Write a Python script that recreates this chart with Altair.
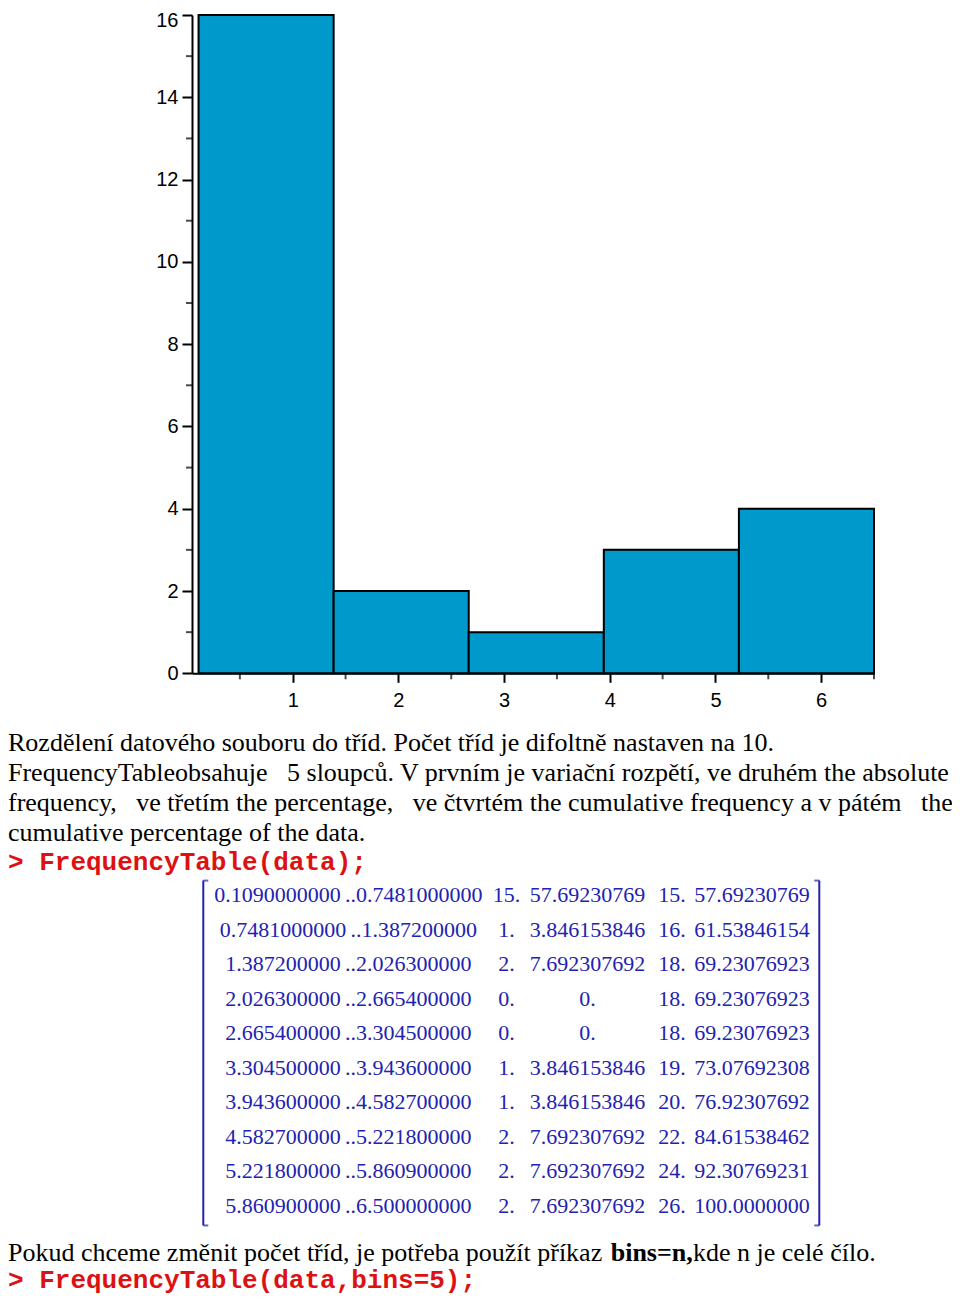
import altair as alt
import pandas as pd

# ---------------- data ----------------
bin_lo = [0.109, 1.3872, 2.6654, 3.9436, 5.2218]
bin_hi = [1.3872, 2.6654, 3.9436, 5.2218, 6.5]
counts = [16, 2, 1, 3, 4]

x_major = [1, 2, 3, 4, 5, 6]
x_minor = [0.5, 1.5, 2.5, 3.5, 4.5, 5.5, 6.5]
y_major = [0, 2, 4, 6, 8, 10, 12, 14, 16]
y_minor = [1, 3, 5, 7, 9, 11, 13, 15]

NB = "\u00a0"
para_lines = [
    "Rozdělení datového souboru do tříd. Počet tříd je difoltně nastaven na 10.",
    "FrequencyTableobsahuje" + NB * 2 + " 5 sloupců. V prvním je variační rozpětí, ve druhém the absolute",
    "frequency," + NB * 2 + " ve třetím the percentage," + NB * 2 + " ve čtvrtém the cumulative frequency a v pátém" + NB * 2 + " the",
    "cumulative percentage of the data.",
]
note_before = "Pokud chceme změnit počet tříd, je potřeba použít příkaz"
note_bold = "bins=n,"
note_after = "kde n je celé čílo."
red_lines = ["> FrequencyTable(data);", "> FrequencyTable(data,bins=5);"]

tab_ranges = [
    "0.1090000000\u2009..0.7481000000",
    "0.7481000000\u2009..1.387200000",
    "1.387200000\u2009..2.026300000",
    "2.026300000\u2009..2.665400000",
    "2.665400000\u2009..3.304500000",
    "3.304500000\u2009..3.943600000",
    "3.943600000\u2009..4.582700000",
    "4.582700000\u2009..5.221800000",
    "5.221800000\u2009..5.860900000",
    "5.860900000\u2009..6.500000000",
]
tab_abs = ["15.", "1.", "2.", "0.", "0.", "1.", "1.", "2.", "2.", "2."]
tab_pct = ["57.69230769", "3.846153846", "7.692307692", "0.", "0.",
           "3.846153846", "3.846153846", "7.692307692", "7.692307692", "7.692307692"]
tab_cum = ["15.", "16.", "18.", "18.", "18.", "19.", "20.", "22.", "24.", "26."]
tab_cumpct = ["57.69230769", "61.53846154", "69.23076923", "69.23076923", "69.23076923",
              "73.07692308", "76.92307692", "84.61538462", "92.30769231", "100.0000000"]

# ---------------- layout (pixels inside the plot area) ----------------
W, H = 944, 1292
X_MIN, X_MAX = 0.047, 6.5
HIST_X_RANGE = [184, 866]
HIST_Y_RANGE = [665.3, 7]
TOP_LABEL_SHIFT = 5.3
TEXT_SEG_RANGE = [0, 602.7, 685]
TEXT_LINE_RANGE = [743, 1253]
RED_LINE_RANGE = [862, 1280]
TAB_COL_RANGE = [195.3, 340.4, 498.5, 579.5, 664, 744, 811.3]
TAB_ROW_RANGE = [894.3, 1204.7]
BRACKET_ENDS = [-0.63, 9.37]

BLUE = "#2222b0"
RED = "#dd1111"
BAR = "#0099cc"
TEXT_SIZE = 26

# ---------------- histogram ----------------
def xs():
    return alt.Scale(domain=[X_MIN, X_MAX], range=HIST_X_RANGE, nice=False, zero=False)

def ys():
    return alt.Scale(domain=[0, 16], range=HIST_Y_RANGE, nice=False, zero=False)

hist_df = pd.DataFrame({"lo": bin_lo, "hi": bin_hi, "count": counts, "base": [0] * len(counts)})

axis_common = dict(
    grid=False, title=None, domainColor="black", domainWidth=2, tickColor="black",
    tickWidth=2, labelColor="black", labelFont="Liberation Sans", labelFontSize=20,
    labelOverlap=False, labelFlush=False, format="d",
)

bars = alt.Chart(hist_df).mark_rect(fill=BAR, stroke="black", strokeWidth=2).encode(
    x=alt.X("lo:Q", scale=xs(),
            axis=alt.Axis(values=x_major, tickSize=9, labelPadding=8,
                          offset=HIST_Y_RANGE[0] - H, **axis_common)),
    x2="hi:Q",
    y=alt.Y("count:Q", scale=ys(),
            axis=alt.Axis(values=y_major, tickSize=10, labelPadding=4,
                          offset=-HIST_X_RANGE[0],
                          labelOffset={"condition": {"test": "datum.value == 16",
                                                     "value": TOP_LABEL_SHIFT}, "value": 0},
                          **axis_common)),
    y2="base:Q",
)

minor_x = alt.Chart(pd.DataFrame({"v": x_minor, "base": [0] * len(x_minor)})).mark_tick(
    orient="vertical", size=6, thickness=2, yOffset=3, color="black"
).encode(x=alt.X("v:Q", scale=xs(), axis=None), y=alt.Y("base:Q", scale=ys(), axis=None))

minor_y = alt.Chart(pd.DataFrame({"v": y_minor, "left": [X_MIN] * len(y_minor)})).mark_tick(
    orient="horizontal", size=6, thickness=2, xOffset=-3, color="black"
).encode(y=alt.Y("v:Q", scale=ys(), axis=None), x=alt.X("left:Q", scale=xs(), axis=None))

# ---------------- black paragraph text ----------------
def tx():
    return alt.Scale(domain=[0, 1, 2], range=TEXT_SEG_RANGE, nice=False, zero=False)

def ty():
    return alt.Scale(domain=[0, 17], range=TEXT_LINE_RANGE, nice=False, zero=False)

black_df = pd.DataFrame({
    "line": [0, 1, 2, 3, 17, 17],
    "seg": [0, 0, 0, 0, 0, 2],
    "text": para_lines + [note_before, note_after],
})
bold_df = pd.DataFrame({"line": [17], "seg": [1], "text": [note_bold]})

black_text = alt.Chart(black_df).mark_text(
    align="left", baseline="alphabetic", font="Liberation Serif", fontSize=TEXT_SIZE, color="black"
).encode(
    x=alt.X("seg:Q", scale=tx(), axis=None),
    y=alt.Y("line:Q", scale=ty(), axis=None),
    text="text:N",
)
bold_text = alt.Chart(bold_df).mark_text(
    align="left", baseline="alphabetic", font="Liberation Serif", fontSize=TEXT_SIZE,
    fontWeight="bold", color="black"
).encode(
    x=alt.X("seg:Q", scale=tx(), axis=None),
    y=alt.Y("line:Q", scale=ty(), axis=None),
    text="text:N",
)

# ---------------- red command lines ----------------
red_df = pd.DataFrame({"line": [0, 1], "seg": [0, 0], "text": red_lines})
red_text = alt.Chart(red_df).mark_text(
    align="left", baseline="alphabetic", font="Liberation Mono", fontSize=26,
    fontWeight="bold", color=RED
).encode(
    x=alt.X("seg:Q", scale=tx(), axis=None),
    y=alt.Y("line:Q", scale=alt.Scale(domain=[0, 1], range=RED_LINE_RANGE, nice=False, zero=False), axis=None),
    text="text:N",
)

# ---------------- matrix ----------------
cols = [tab_ranges, tab_abs, tab_pct, tab_cum, tab_cumpct]
rows = []
for ci, col in enumerate(cols):
    for ri, t in enumerate(col):
        rows.append({"row": ri, "col": ci, "text": t})
tab_df = pd.DataFrame(rows)

def tab_xs():
    return alt.Scale(domain=[-1, 0, 1, 2, 3, 4, 5], range=TAB_COL_RANGE, nice=False, zero=False)

def tab_ys():
    return alt.Scale(domain=[0, 9], range=TAB_ROW_RANGE, nice=False, zero=False)

table = alt.Chart(tab_df).mark_text(
    align="center", baseline="alphabetic", font="Liberation Serif", fontSize=22, color=BLUE
).encode(
    x=alt.X("col:Q", scale=tab_xs(), axis=None),
    y=alt.Y("row:Q", scale=tab_ys(), axis=None),
    text="text:N",
)

br_df = pd.DataFrame({"c": [-1, 5], "top": [BRACKET_ENDS[0]] * 2, "bot": [BRACKET_ENDS[1]] * 2})
br_rule = alt.Chart(br_df).mark_rule(color=BLUE, strokeWidth=2).encode(
    x=alt.X("c:Q", scale=tab_xs(), axis=None),
    y=alt.Y("top:Q", scale=tab_ys(), axis=None),
    y2="bot:Q",
)
br_left = alt.Chart(pd.DataFrame({"c": [-1, -1], "r": BRACKET_ENDS})).mark_tick(
    orient="horizontal", size=5, thickness=2, xOffset=2.5, color=BLUE
).encode(x=alt.X("c:Q", scale=tab_xs(), axis=None), y=alt.Y("r:Q", scale=tab_ys(), axis=None))
br_right = alt.Chart(pd.DataFrame({"c": [5, 5], "r": BRACKET_ENDS})).mark_tick(
    orient="horizontal", size=5, thickness=2, xOffset=-2.5, color=BLUE
).encode(x=alt.X("c:Q", scale=tab_xs(), axis=None), y=alt.Y("r:Q", scale=tab_ys(), axis=None))

chart = alt.layer(
    bars, minor_x, minor_y, black_text, bold_text, red_text, table, br_rule, br_left, br_right
).resolve_scale(
    x="independent", y="independent"
).properties(
    width=W, height=H, padding=0, autosize=alt.AutoSizeParams(type="none")
).configure_view(stroke=None)

chart.save("out.html", embed_options={"renderer": "svg", "actions": False})
